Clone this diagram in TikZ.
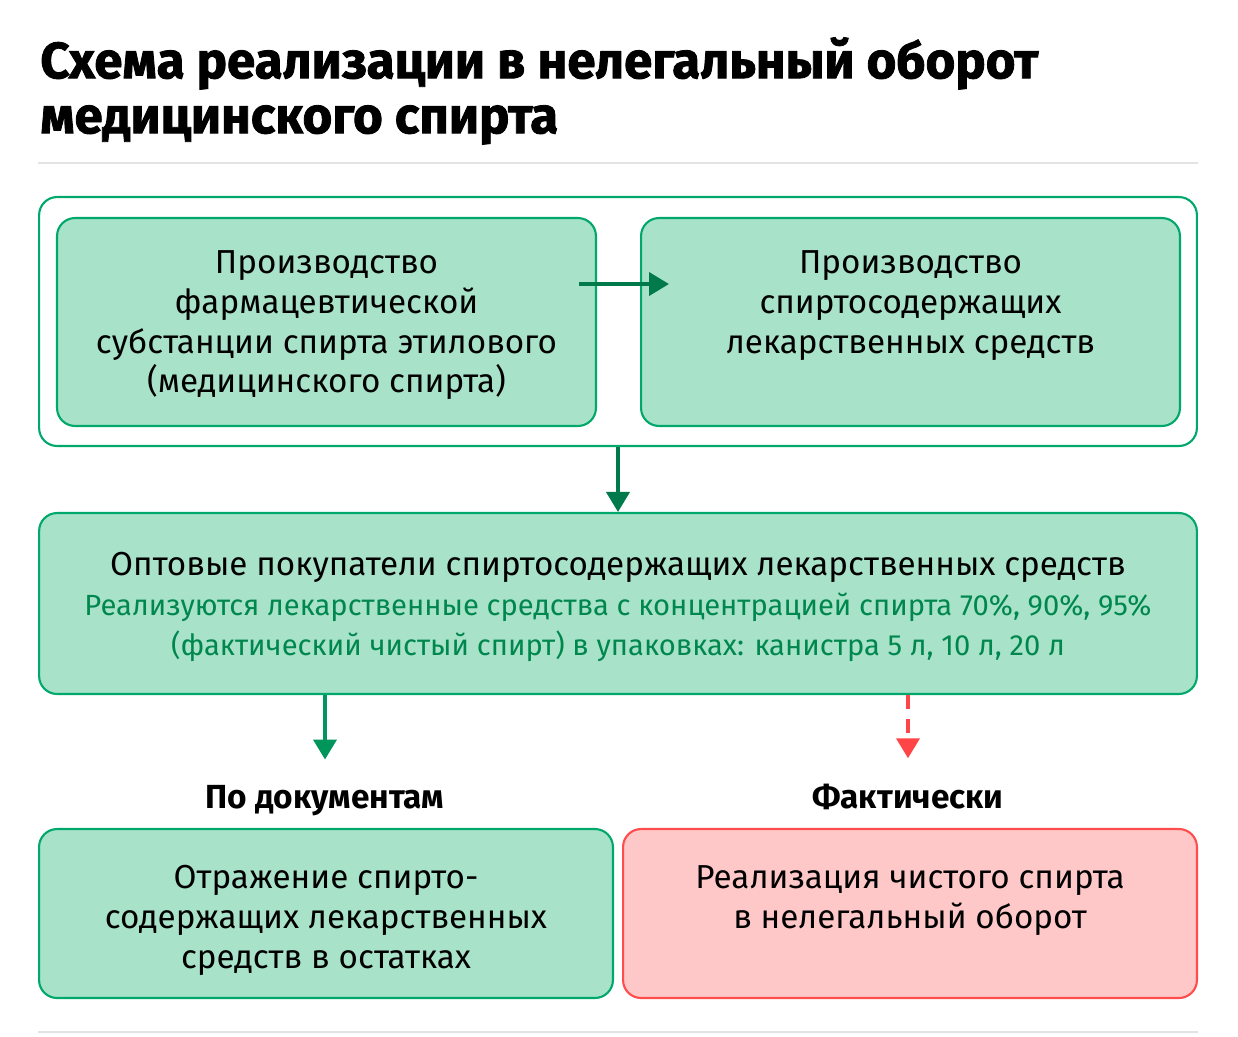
\documentclass[tikz,border=0pt]{standalone}
\usepackage{fontspec}
\setmainfont{Fira Sans}
\newfontfamily\headfont{Fira Sans}[BoldFeatures={FakeBold=1.6}]
\usetikzlibrary{arrows.meta,positioning}

\definecolor{mintfill}{HTML}{A8E2C9}
\definecolor{mintline}{HTML}{00A86B}
\definecolor{arrowgreen}{HTML}{007A4B}
\definecolor{docgreen}{HTML}{00955A}
\definecolor{notegreen}{HTML}{00874E}
\definecolor{rosefill}{HTML}{FFC8C8}
\definecolor{roseline}{HTML}{FF4D4D}
\definecolor{rosearrow}{HTML}{FF4545}
\definecolor{rulegray}{HTML}{E3E3E3}

\newcommand{\bodyfont}{\fontsize{18.9pt}{22.76pt}\selectfont}
\newcommand{\notefont}{\fontsize{16.6pt}{22.76pt}\selectfont}

\tikzset{
  stagebox/.style={draw=mintline, line width=1.2pt, fill=mintfill, rounded corners=0.36cm,
    align=center, inner sep=0pt, font=\bodyfont},
  stopbox/.style={stagebox, draw=roseline, fill=rosefill},
  lastbase/.style={text height=#1, text depth=0pt},
  flowarrow/.style={draw=arrowgreen, line width=2.2pt, -{Triangle[width=0.46cm,length=0.4cm]}},
  headline/.style={font=\fontsize{29pt}{31.3pt}\selectfont\headfont\bfseries, align=left, inner sep=0pt},
  branchlabel/.style={font=\fontsize{19pt}{22pt}\selectfont\bfseries, inner sep=0pt}
}

\begin{document}
\begin{tikzpicture}[x=0.02cm, y=-0.02cm]
  \useasboundingbox[fill=white] (0,0) rectangle (1238,1036);
  %Title
  \node[headline, anchor=north west] (heading) at (40,37)
    {Схема реализации в нелегальный оборот\\медицинского спирта};
  \draw[rulegray, line width=1.1pt] (38,163) -- (1198,163);
  \draw[rulegray, line width=1.1pt] (38,1032) -- (1198,1032);
  %Production
  \node[draw=mintline, line width=1.2pt, fill=white, rounded corners=0.36cm,
    minimum width=23.16cm, minimum height=4.98cm] (stage) at (618,321.5) {};
  \node[stagebox, lastbase=2.84cm, minimum width=10.78cm, minimum height=4.16cm] (prodsub) at (326.5,322)
    {Производство\\фармацевтической\\субстанции спирта этилового\\(медицинского спирта)};
  \node[stagebox, lastbase=1.24cm, minimum width=10.78cm, minimum height=4.16cm] (prodmed) at (910.5,322)
    {Производство\\спиртосодержащих\\лекарственных средств};
  \draw[flowarrow] ([xshift=-0.36cm,yshift=0.76cm]prodsub.east) -- ([xshift=0.58cm,yshift=0.76cm]prodmed.west);
  %Wholesale
  \node[stagebox, lastbase=2.06cm, minimum width=23.16cm, minimum height=3.62cm] (wholesale) at (618,603.5)
    {Оптовые покупатели спиртосодержащих лекарственных средств\\
     {\notefont\color{notegreen}Реализуются лекарственные средства с концентрацией спирта 70\%, 90\%, 95\%}\\
     {\notefont\color{notegreen}(фактический чистый спирт) в упаковках: канистра 5 л, 10 л, 20 л}};
  \draw[flowarrow] (stage.south) -- (wholesale.north);
  %Outcome
  \node[branchlabel, anchor=base] (docs) at (325,808) {По документам};
  \node[branchlabel, anchor=base] (fact) at (908,808) {Фактически};
  \node[stagebox, lastbase=2.18cm, minimum width=11.48cm, minimum height=3.38cm] (remains) at (326,913.5)
    {Отражение спирто-\\содержащих лекарственных\\средств в остатках};
  \node[stopbox, lastbase=0.58cm, minimum width=11.48cm, minimum height=3.38cm] (illegal) at (910,913.5)
    {Реализация чистого спирта\\в нелегальный оборот};
  \draw[flowarrow, draw=docgreen, shorten >=0.5cm] (wholesale.south -| docs.north) -- (docs.north);
  \draw[flowarrow, draw=rosearrow, dash pattern=on 0.28cm off 0.2cm, shorten >=0.5cm]
    (wholesale.south -| fact.north) -- (fact.north);
\end{tikzpicture}
\end{document}
